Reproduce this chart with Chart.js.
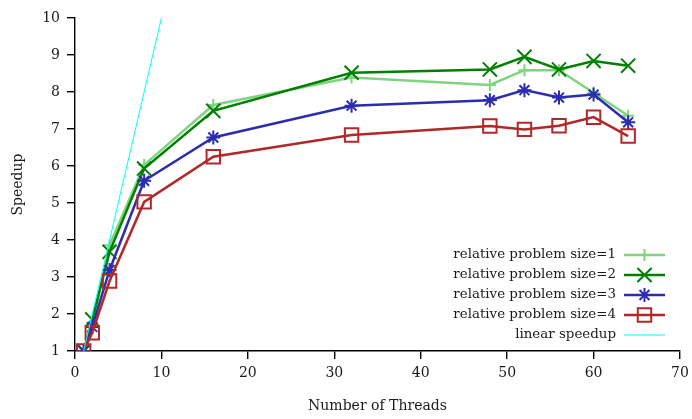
<!DOCTYPE html>
<html>
<head>
    <meta charset="UTF-8">
    <title>Speedup</title>
    <script src="https://cdn.jsdelivr.net/npm/chart.js@4.4.0/dist/chart.umd.min.js"></script>
    <style>
        html, body { margin: 0; padding: 0; background: #fff; }
        #wrap { width: 692px; height: 419px; }
    </style>
</head>
<body>
    <div id="wrap"><canvas id="chart" width="692" height="419"></canvas></div>

    <script>
        // thread counts
        var threads = [1, 2, 4, 8, 16, 32, 48, 52, 56, 60, 64];
        // speedup for each relative problem size
        var size1 = [1, 1.75, 3.86, 6.03, 7.65, 8.39, 8.19, 8.59, 8.59, 7.98, 7.36];
        var size2 = [1, 1.85, 3.68, 5.93, 7.49, 8.52, 8.61, 8.95, 8.61, 8.84, 8.71];
        var size3 = [1, 1.65, 3.19, 5.6, 6.77, 7.63, 7.78, 8.05, 7.85, 7.93, 7.18];
        var size4 = [1, 1.49, 2.89, 5.03, 6.25, 6.84, 7.08, 6.99, 7.09, 7.32, 6.81];
        var linearX = [1, 10];
        var linearY = [1, 10];
        var labels = ['relative problem size=1', 'relative problem size=2',
            'relative problem size=3', 'relative problem size=4', 'linear speedup'];
        var xTicks = [0, 10, 20, 30, 40, 50, 60, 70];
        var yTicks = [1, 2, 3, 4, 5, 6, 7, 8, 9, 10];

        var serif = "'DejaVu Serif', 'Liberation Serif', serif";

        function pts(xs, ys) {
            return xs.map(function (x, i) { return { x: x, y: ys[i] }; });
        }

        function series(label, ys, color, style, radius, order) {
            return {
                label: label,
                data: pts(threads, ys),
                borderColor: color,
                backgroundColor: color,
                borderWidth: 2.5,
                pointStyle: style,
                pointRadius: radius,
                pointBorderColor: color,
                pointBackgroundColor: 'rgba(0,0,0,0)',
                pointBorderWidth: 2,
                tension: 0,
                order: order
            };
        }

        // gnuplot-style key, bottom right inside the plot
        var keyPlugin = {
            id: 'key',
            afterDraw: function (chart) {
                var ctx = chart.ctx;
                var area = chart.chartArea;
                var textRight = area.right - 64;
                var lineL = area.right - 56, lineR = area.right - 15;
                var y0 = area.bottom - 96;
                ctx.save();
                ctx.font = '13.4px ' + serif;
                ctx.textAlign = 'right';
                ctx.textBaseline = 'middle';
                chart.data.datasets.forEach(function (ds, i) {
                    var y = y0 + i * 20;
                    ctx.fillStyle = '#1a1a1a';
                    ctx.fillText(ds.label, textRight, y);
                    ctx.strokeStyle = ds.borderColor;
                    ctx.lineWidth = ds.borderWidth;
                    ctx.beginPath();
                    ctx.moveTo(lineL, y);
                    ctx.lineTo(lineR, y);
                    ctx.stroke();
                    if (ds.pointRadius > 0) {
                        ctx.lineWidth = ds.pointBorderWidth;
                        ctx.fillStyle = 'rgba(0,0,0,0)';
                        Chart.helpers.drawPoint(ctx, {
                            pointStyle: ds.pointStyle,
                            radius: ds.pointRadius,
                            borderWidth: ds.pointBorderWidth,
                            rotation: 0
                        }, (lineL + lineR) / 2, y);
                    }
                });
                ctx.restore();
            }
        };

        var ctx = document.getElementById('chart').getContext('2d');
        var chart = new Chart(ctx, {
            type: 'line',
            data: {
                datasets: [
                    series(labels[0], size1, '#80d480', 'cross', 6, 5),
                    series(labels[1], size2, '#008000', 'crossRot', 10, 4),
                    series(labels[2], size3, '#2c2cb0', 'star', 7, 3),
                    series(labels[3], size4, '#b22828', 'rect', 9.5, 2),
                    {
                        label: labels[4],
                        data: pts(linearX, linearY),
                        borderColor: '#00ffff',
                        borderWidth: 1,
                        pointRadius: 0,
                        tension: 0,
                        order: 1
                    }
                ]
            },
            options: {
                responsive: false,
                animation: false,
                layout: { padding: { top: 18, right: 8, left: 0, bottom: 0 } },
                plugins: {
                    legend: { display: false },
                    tooltip: { enabled: false }
                },
                scales: {
                    x: {
                        type: 'linear',
                        min: 0,
                        max: 70,
                        afterBuildTicks: function (s) { s.ticks = xTicks.map(function (v) { return { value: v }; }); },
                        afterFit: function (s) { s.height = 68; s.paddingRight = 0; s.paddingLeft = 0; },
                        grid: { drawOnChartArea: false, drawTicks: true, tickLength: 8, color: '#000', lineWidth: 1.4 },
                        border: { color: '#000', width: 1.4 },
                        ticks: { color: '#1a1a1a', font: { family: serif, size: 14 }, padding: 6, maxRotation: 0 },
                        title: { display: true, text: 'Number of Threads', color: '#1a1a1a', font: { family: serif, size: 14 }, padding: { top: 0, bottom: 4 } }
                    },
                    y: {
                        type: 'linear',
                        min: 1,
                        max: 10,
                        afterBuildTicks: function (s) { s.ticks = yTicks.map(function (v) { return { value: v }; }); },
                        afterFit: function (s) { s.width = 75; s.paddingTop = 0; s.paddingBottom = 0; },
                        grid: { drawOnChartArea: false, drawTicks: true, tickLength: 8, color: '#000', lineWidth: 1.4 },
                        border: { color: '#000', width: 1.4 },
                        ticks: { color: '#1a1a1a', font: { family: serif, size: 14 }, padding: 7 },
                        title: { display: true, text: 'Speedup', color: '#1a1a1a', font: { family: serif, size: 14 }, padding: { top: 10, bottom: 0 } }
                    }
                }
            },
            plugins: [keyPlugin]
        });
    </script>
</body>
</html>
